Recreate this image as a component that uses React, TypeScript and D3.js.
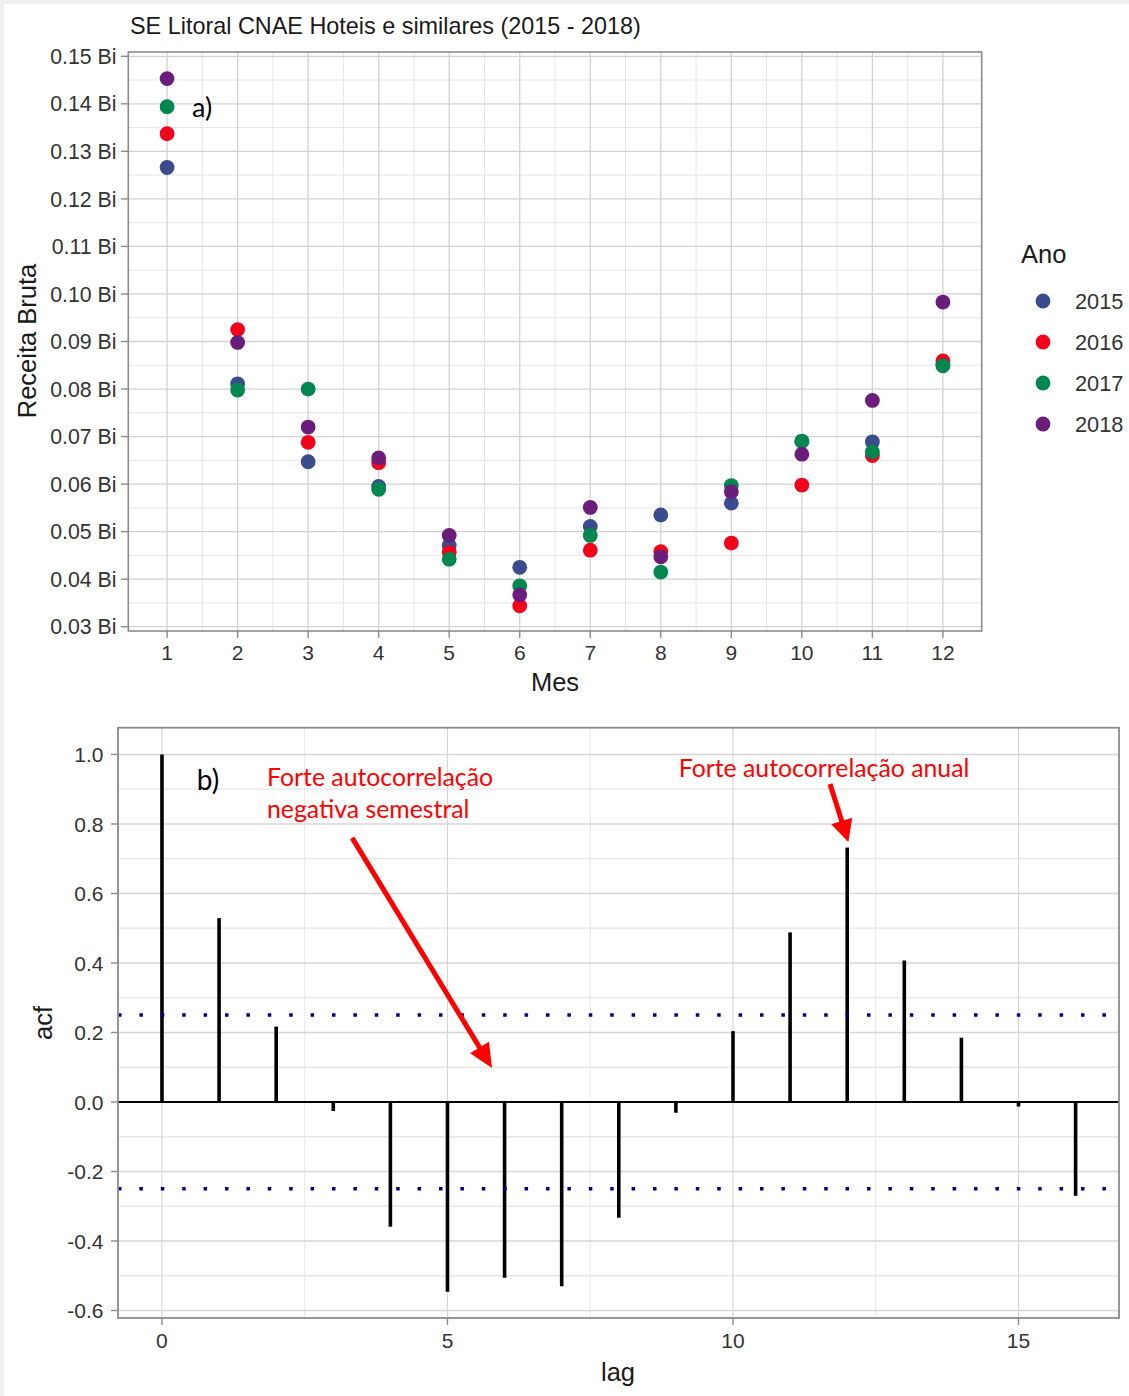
import React from "react";
import * as d3 from "d3";

// ---------- Data: panel a) ----------
const months = [1, 2, 3, 4, 5, 6, 7, 8, 9, 10, 11, 12];
const years = ["2015", "2016", "2017", "2018"];
const yearColors = ["#3a4b8e", "#f5001b", "#00874f", "#6a1d7a"];
const rev2015 = [0.1266, 0.0811, 0.0647, 0.0595, 0.0471, 0.0425, 0.0511, 0.0535, 0.0560, 0.0690, 0.0689, 0.0852];
const rev2016 = [0.1337, 0.0925, 0.0688, 0.0645, 0.0456, 0.0344, 0.0461, 0.0458, 0.0476, 0.0598, 0.0660, 0.0859];
const rev2017 = [0.1394, 0.0798, 0.0800, 0.0589, 0.0442, 0.0386, 0.0492, 0.0415, 0.0597, 0.0690, 0.0668, 0.0849];
const rev2018 = [0.1453, 0.0898, 0.0720, 0.0655, 0.0492, 0.0367, 0.0551, 0.0447, 0.0584, 0.0663, 0.0776, 0.0983];
const revSeries = [rev2015, rev2016, rev2017, rev2018];
const revTicks = [0.03, 0.04, 0.05, 0.06, 0.07, 0.08, 0.09, 0.1, 0.11, 0.12, 0.13, 0.14, 0.15];

// ---------- Data: panel b) ----------
const lags = [0, 1, 2, 3, 4, 5, 6, 7, 8, 9, 10, 11, 12, 13, 14, 15, 16];
const acfValues = [1.0, 0.529, 0.217, -0.026, -0.359, -0.546, -0.506, -0.530, -0.333, -0.031, 0.204, 0.488, 0.732, 0.407, 0.185, -0.013, -0.270];
const confLimit = 0.25;
const acfTicks = [-0.6, -0.4, -0.2, 0.0, 0.2, 0.4, 0.6, 0.8, 1.0];
const lagTicks = [0, 5, 10, 15];

const SANS = "'Liberation Sans', Arial, sans-serif";
const ANNO = "Lato, 'Open Sans', sans-serif";

function arrowHead(x1: number, y1: number, x2: number, y2: number, len: number, half: number) {
  const dx = x2 - x1, dy = y2 - y1;
  const L = Math.hypot(dx, dy);
  const ux = dx / L, uy = dy / L;
  const bx = x2 - ux * len, by = y2 - uy * len;
  const px = -uy, py = ux;
  return {
    line: [x1, y1, bx + ux * 2, by + uy * 2],
    pts: `${x2},${y2} ${bx + px * half},${by + py * half} ${bx - px * half},${by - py * half}`,
  };
}

export default function App() {
  // ----- panel a scales -----
  const ax = d3.scaleLinear().domain([0.45, 12.55]).range([128.3, 981.7]);
  const ay = d3.scaleLinear().domain([0.0291, 0.1509]).range([631, 52]);
  const aMinorY = d3.range(0.035, 0.151, 0.01);
  const aMinorX = d3.range(1.5, 12, 1);

  // ----- panel b scales -----
  const bx = d3.scaleLinear().domain([-0.77, 16.76]).range([118, 1119]);
  const by = d3.scaleLinear().domain([-0.6216, 1.077]).range([1318, 727.7]);
  const bMinorY = d3.range(-0.5, 1.0, 0.2);
  const bMinorX = [2.5, 7.5, 12.5];

  const arrow1 = arrowHead(bx(3.33), by(0.76), bx(5.78), by(0.098), 24, 11);
  const arrow2 = arrowHead(bx(11.70), by(0.915), bx(12.02), by(0.748), 22, 11);

  return (
    <svg width={1129} height={1396} style={{ position: "absolute", left: 0, top: 0, display: "block" }}>
      <rect x={0} y={0} width={1129} height={1396} fill="#efefef" />
      <rect x={4} y={4} width={1125} height={1392} fill="#ffffff" />

      {/* ================= Panel a ================= */}
      <text x={130} y={34} fontFamily={SANS} fontSize={23.4} fill="#1a1a1a">
        SE Litoral CNAE Hoteis e similares (2015 - 2018)
      </text>
      <g>
        {aMinorY.map((v, i) => (
          <line key={"amy" + i} x1={ax.range()[0]} x2={ax.range()[1]} y1={ay(v)} y2={ay(v)} stroke="#e6e6e6" strokeWidth={1} />
        ))}
        {aMinorX.map((v, i) => (
          <line key={"amx" + i} x1={ax(v)} x2={ax(v)} y1={ay.range()[0]} y2={ay.range()[1]} stroke="#e6e6e6" strokeWidth={1} />
        ))}
        {revTicks.map((v, i) => (
          <line key={"aMy" + i} x1={ax.range()[0]} x2={ax.range()[1]} y1={ay(v)} y2={ay(v)} stroke="#d2d2d2" strokeWidth={1.3} />
        ))}
        {months.map((m) => (
          <line key={"aMx" + m} x1={ax(m)} x2={ax(m)} y1={ay.range()[0]} y2={ay.range()[1]} stroke="#d2d2d2" strokeWidth={1.3} />
        ))}
      </g>
      {/* points */}
      <g>
        {revSeries.map((s, si) =>
          s.map((v, i) => (
            <circle key={`p${si}-${i}`} cx={ax(months[i])} cy={ay(v)} r={7.4} fill={yearColors[si]} />
          ))
        )}
      </g>
      <rect x={ax.range()[0]} y={ay.range()[1]} width={ax.range()[1] - ax.range()[0]} height={ay.range()[0] - ay.range()[1]} fill="none" stroke="#8c8c8c" strokeWidth={1.6} />
      {/* y axis */}
      {revTicks.map((v) => (
        <g key={"ayt" + v}>
          <line x1={121} x2={128.3} y1={ay(v)} y2={ay(v)} stroke="#8c8c8c" strokeWidth={1.4} />
          <text x={116.5} y={ay(v)} dy="0.36em" textAnchor="end" fontFamily={SANS} fontSize={21.3} fill="#333">
            {v.toFixed(2) + " Bi"}
          </text>
        </g>
      ))}
      {/* x axis */}
      {months.map((m) => (
        <g key={"axt" + m}>
          <line x1={ax(m)} x2={ax(m)} y1={631} y2={638} stroke="#8c8c8c" strokeWidth={1.4} />
          <text x={ax(m)} y={660} textAnchor="middle" fontFamily={SANS} fontSize={21} fill="#333">
            {m}
          </text>
        </g>
      ))}
      <text x={555} y={691} textAnchor="middle" fontFamily={SANS} fontSize={25.5} fill="#1a1a1a">Mes</text>
      <text transform={`translate(36,341) rotate(-90)`} textAnchor="middle" fontFamily={SANS} fontSize={25.5} fill="#1a1a1a">
        Receita Bruta
      </text>
      {/* legend */}
      <text x={1021} y={263} fontFamily={SANS} fontSize={25.5} fill="#1a1a1a">Ano</text>
      {years.map((yr, i) => (
        <g key={"lg" + yr}>
          <circle cx={1043} cy={301 + i * 41} r={7.4} fill={yearColors[i]} />
          <text x={1075} y={301 + i * 41} dy="0.36em" fontFamily={SANS} fontSize={21.8} fill="#333">{yr}</text>
        </g>
      ))}
      <text x={ax(1.353)} y={ay(0.1372)} fontFamily={ANNO} fontSize={27} fill="#000">a)</text>

      {/* ================= Panel b ================= */}
      <g>
        {bMinorY.map((v, i) => (
          <line key={"bmy" + i} x1={bx.range()[0]} x2={bx.range()[1]} y1={by(v)} y2={by(v)} stroke="#e6e6e6" strokeWidth={1.3} />
        ))}
        {bMinorX.map((v, i) => (
          <line key={"bmx" + i} x1={bx(v)} x2={bx(v)} y1={by.range()[0]} y2={by.range()[1]} stroke="#e6e6e6" strokeWidth={1} />
        ))}
        {acfTicks.map((v, i) => (
          <line key={"bMy" + i} x1={bx.range()[0]} x2={bx.range()[1]} y1={by(v)} y2={by(v)} stroke="#d6d6d6" strokeWidth={1.5} />
        ))}
        {lagTicks.map((v) => (
          <line key={"bMx" + v} x1={bx(v)} x2={bx(v)} y1={by.range()[0]} y2={by.range()[1]} stroke="#d6d6d6" strokeWidth={1.2} />
        ))}
      </g>
      {/* acf bars */}
      {acfValues.map((v, i) => (
        <line key={"acf" + i} x1={bx(lags[i])} x2={bx(lags[i])} y1={by(0)} y2={by(v)} stroke="#000" strokeWidth={3.6} />
      ))}
      <line x1={bx.range()[0]} x2={bx.range()[1]} y1={by(0)} y2={by(0)} stroke="#000" strokeWidth={2} />
      {/* confidence bounds */}
      {[confLimit, -confLimit].map((c) => (
        <line key={"cl" + c} x1={bx.range()[0]} x2={bx.range()[1]} y1={by(c)} y2={by(c)} stroke="#00008b" strokeWidth={3.5} strokeDasharray="3.5 17.9" />
      ))}
      <rect x={bx.range()[0]} y={by.range()[1]} width={bx.range()[1] - bx.range()[0]} height={by.range()[0] - by.range()[1]} fill="none" stroke="#8c8c8c" strokeWidth={1.8} />
      {acfTicks.map((v) => (
        <g key={"byt" + v}>
          <line x1={111} x2={118} y1={by(v)} y2={by(v)} stroke="#8c8c8c" strokeWidth={1.4} />
          <text x={103.5} y={by(v)} dy="0.36em" textAnchor="end" fontFamily={SANS} fontSize={21} fill="#333">
            {v.toFixed(1)}
          </text>
        </g>
      ))}
      {lagTicks.map((v) => (
        <g key={"bxt" + v}>
          <line x1={bx(v)} x2={bx(v)} y1={1318} y2={1325} stroke="#8c8c8c" strokeWidth={1.4} />
          <text x={bx(v)} y={1348} textAnchor="middle" fontFamily={SANS} fontSize={21} fill="#333">{v}</text>
        </g>
      ))}
      <text x={618} y={1381} textAnchor="middle" fontFamily={SANS} fontSize={25.5} fill="#1a1a1a">lag</text>
      <text transform={`translate(52,1023) rotate(-90)`} textAnchor="middle" fontFamily={SANS} fontSize={25.5} fill="#1a1a1a">acf</text>

      {/* annotations */}
      <text x={bx(0.61)} y={by(0.898)} fontFamily={ANNO} fontSize={28} fill="#000">b)</text>
      <text x={bx(1.84)} y={by(0.909)} fontFamily={ANNO} fontSize={24.8} fill="#ff0000">Forte autocorrelação</text>
      <text x={bx(1.84)} y={by(0.817)} fontFamily={ANNO} fontSize={24.8} fill="#ff0000">negativa semestral</text>
      <text x={bx(9.05)} y={by(0.935)} fontFamily={ANNO} fontSize={24.8} fill="#ff0000">Forte autocorrelação anual</text>
      <line x1={arrow1.line[0]} y1={arrow1.line[1]} x2={arrow1.line[2]} y2={arrow1.line[3]} stroke="#ff0000" strokeWidth={5} />
      <polygon points={arrow1.pts} fill="#ff0000" />
      <line x1={arrow2.line[0]} y1={arrow2.line[1]} x2={arrow2.line[2]} y2={arrow2.line[3]} stroke="#ff0000" strokeWidth={5} />
      <polygon points={arrow2.pts} fill="#ff0000" />
    </svg>
  );
}
